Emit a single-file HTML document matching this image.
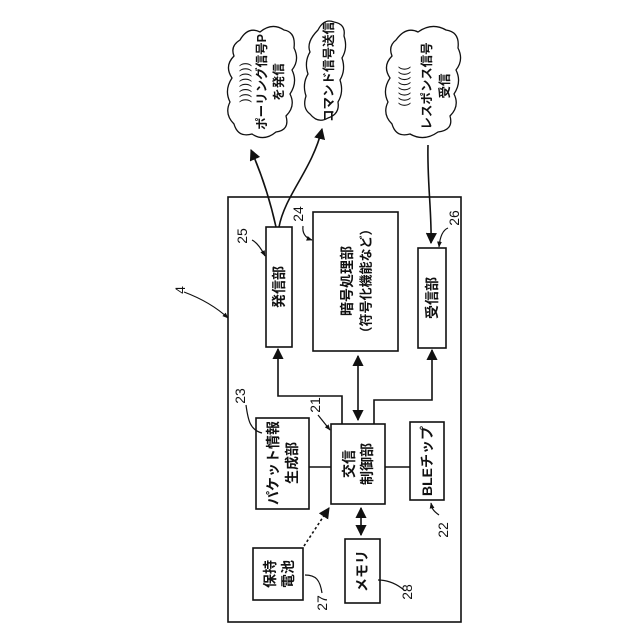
<!DOCTYPE html>
<html><head><meta charset="utf-8"><style>
html,body{margin:0;padding:0;background:#fff}
svg{display:block}
text{font-family:"Liberation Sans","Noto Sans CJK JP",sans-serif;fill:#111}
</style></head><body>
<svg width="640" height="640" viewBox="0 0 640 640" xmlns="http://www.w3.org/2000/svg">
<defs>
<marker id="a" viewBox="0 0 10 10" refX="9" refY="5" markerWidth="7" markerHeight="7" orient="auto-start-reverse"><path d="M0,0 L10,5 L0,10 z" fill="#111"/></marker>
<marker id="s" viewBox="0 0 10 10" refX="9" refY="5" markerWidth="5" markerHeight="5" orient="auto"><path d="M0,1 L10,5 L0,9 z" fill="#111"/></marker>
</defs>
<g fill="none" stroke="#111" stroke-width="1.6">
<rect x="228" y="197" width="233" height="425"/>
<rect x="266" y="227" width="26" height="120" fill="#fff"/>
<rect x="313" y="212" width="85" height="139"/>
<rect x="418" y="248" width="28" height="100"/>
<rect x="331" y="424" width="54" height="80"/>
<rect x="256" y="418" width="53" height="91"/>
<rect x="410" y="422" width="34" height="78"/>
<rect x="345" y="539" width="35" height="64"/>
<rect x="253" y="548" width="50" height="52"/>
<polyline points="342,424 342,396 278,396 278,349" marker-end="url(#a)"/>
<polyline points="374,424 374,400 432,400 432,350" marker-end="url(#a)"/>
<line x1="358" y1="356" x2="358" y2="420" marker-start="url(#a)" marker-end="url(#a)"/>
<line x1="361" y1="508" x2="361" y2="535" marker-start="url(#a)" marker-end="url(#a)"/>
<line x1="309" y1="467" x2="331" y2="467"/>
<line x1="385" y1="467" x2="410" y2="467"/>
<line x1="304" y1="546" x2="329" y2="508" stroke-dasharray="2.5,2.5" marker-end="url(#a)"/>
<path d="M276,227 C270,200 262,175 251,150" marker-end="url(#a)"/>
<path d="M279,227 C285,195 312,170 322,129" marker-end="url(#a)"/>
<path d="M428,145 C427,180 432,215 431,243" marker-end="url(#a)"/>
<path d="M184,292 C200,298 215,306 228,318" stroke-width="1.2" marker-end="url(#s)"/>
<path d="M252,240 C258,243 262,250 265,256" stroke-width="1.2" marker-end="url(#s)"/>
<path d="M303,226 C302,234 306,238 312,240" stroke-width="1.2" marker-end="url(#s)"/>
<path d="M448,228 C443,230 440,236 439,247" stroke-width="1.2" marker-end="url(#s)"/>
<path d="M246,405 C248,420 250,430 262,433" stroke-width="1.2"/>
<path d="M318,415 C322,420 326,425 330,430" stroke-width="1.2" marker-end="url(#s)"/>
<path d="M439,515 C432,510 432,508 431,503" stroke-width="1.2" marker-end="url(#s)"/>
<path d="M322,593 C320,580 316,575 305,575" stroke-width="1.2"/>
<path d="M404,590 C398,585 390,580 378,580" stroke-width="1.2"/>
<path d="M240,40 q8,-14 20,-8 q12,-10 24,-2 q12,2 10,18 q6,12 -2,22 q6,12 -2,24 q6,12 -4,22 q4,14 -10,16 q-12,10 -24,2 q-14,4 -18,-10 q-10,-10 -4,-22 q-6,-12 2,-24 q-8,-12 2,-22 q-4,-10 6,-16 z" stroke-width="1.3"/>
<path d="M318,30 q6,-12 16,-8 q12,2 10,14 q4,12 -2,22 q4,12 -2,22 q4,12 -2,22 q2,12 -10,16 q-10,6 -18,-4 q-8,-6 -4,-18 q-4,-12 2,-22 q-4,-12 2,-22 q-4,-10 8,-22 z" stroke-width="1.3"/>
<path d="M396,40 q10,-14 22,-8 q14,-10 28,-2 q14,2 12,18 q6,12 -2,22 q6,12 -2,24 q6,12 -4,22 q4,14 -12,16 q-14,10 -28,2 q-14,4 -18,-10 q-10,-10 -4,-22 q-6,-12 2,-24 q-8,-12 2,-22 q-4,-10 4,-16 z" stroke-width="1.3"/>
</g>
<g font-size="14" text-anchor="middle" dominant-baseline="central" font-weight="bold">
<text transform="translate(279,287) rotate(-90)">発信部</text>
<text transform="translate(347,281) rotate(-90)">暗号処理部</text>
<text transform="translate(366,281) rotate(-90)" font-size="13">（符号化機能など）</text>
<text transform="translate(432,298) rotate(-90)">受信部</text>
<text transform="translate(349,464) rotate(-90)">交信</text>
<text transform="translate(367,464) rotate(-90)">制御部</text>
<text transform="translate(273,463) rotate(-90)">パケット情報</text>
<text transform="translate(292,463) rotate(-90)">生成部</text>
<text transform="translate(427,461) rotate(-90)">BLEチップ</text>
<text transform="translate(362,571) rotate(-90)">メモリ</text>
<text transform="translate(270,574) rotate(-90)">保持</text>
<text transform="translate(288,574) rotate(-90)">電池</text>
<text transform="translate(262,82) rotate(-90)" font-size="12.5">ポーリング信号P</text>
<text transform="translate(279,82) rotate(-90)" font-size="12.5">を発信</text>
<text transform="translate(245,82) rotate(-90)" font-size="12.5" font-weight="normal" letter-spacing="1">))))))))</text>
<text transform="translate(329,72) rotate(-90)" font-size="12.5">コマンド信号送信</text>
<text transform="translate(404,86) rotate(-90)" font-size="12.5" font-weight="normal" letter-spacing="1">((((((((</text>
<text transform="translate(427,86) rotate(-90)" font-size="12.5">レスポンス信号</text>
<text transform="translate(445,86) rotate(-90)" font-size="12.5">受信</text>
<text transform="translate(180,290) rotate(-90)" font-weight="normal">4</text>
<text transform="translate(242,236) rotate(-90)" font-weight="normal">25</text>
<text transform="translate(298,214) rotate(-90)" font-weight="normal">24</text>
<text transform="translate(454,218) rotate(-90)" font-weight="normal">26</text>
<text transform="translate(240,396) rotate(-90)" font-weight="normal">23</text>
<text transform="translate(315,405) rotate(-90)" font-weight="normal">21</text>
<text transform="translate(443,530) rotate(-90)" font-weight="normal">22</text>
<text transform="translate(322,603) rotate(-90)" font-weight="normal">27</text>
<text transform="translate(407,592) rotate(-90)" font-weight="normal">28</text>
</g>
</svg>
</body></html>
